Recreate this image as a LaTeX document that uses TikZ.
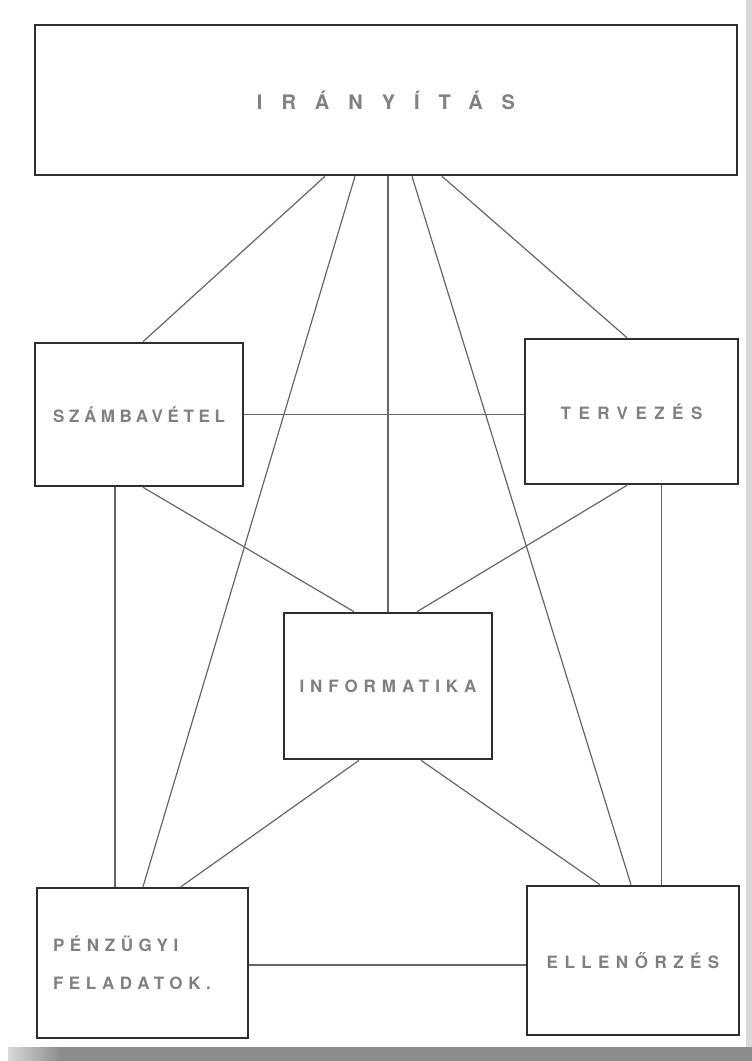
\documentclass[tikz,border=0pt]{standalone}
\usepackage{fontspec}
\setmainfont{TeX Gyre Heros}
\usetikzlibrary{calc}
\newcommand{\lblfont}[2]{\fontsize{#1}{#1}\selectfont\bfseries\addfontfeatures{LetterSpace=#2}}
\tikzset{
  box/.style={draw=black!82, line width=2.6pt, fill=white, rectangle, inner sep=0pt, text=black!50},
  link/.style={draw=black!60, line width=1.2pt},
}
\begin{document}
\begin{tikzpicture}[x=1pt,y=-1pt]
\useasboundingbox (0,0) rectangle (752,1061);
\fill[white] (0,0) rectangle (752,1061);
% scan shadow
\shade[left color=black!15, right color=black!45] (8,1047) rectangle (60,1061);
\fill[black!45] (60,1047) rectangle (752,1061);
\fill[black!15] (746,0) rectangle (752,1047);

\node[box, minimum width=702pt, minimum height=150pt, font=\lblfont{20}{95}] (top) at (386,100) {IRÁNYÍTÁS};
\node[box, minimum width=208pt, minimum height=143pt, font=\lblfont{17}{27}] (szam) at (139,414.5) {SZÁMBAVÉTEL};
\node[box, minimum width=213pt, minimum height=145pt, font=\lblfont{17}{44}] (terv) at (631.5,411.5) {TERVEZÉS};
\node[box, minimum width=208pt, minimum height=146pt, font=\lblfont{17}{35}] (info) at (388,686) {INFORMATIKA};
\node[box, minimum height=150pt, text width=179pt, inner xsep=16pt, align=left,
      font=\fontsize{17}{38}\selectfont\bfseries\addfontfeatures{LetterSpace=33}] (penz) at (142.5,963) {PÉNZÜGYI\\FELADATOK.};
\node[box, minimum width=212pt, minimum height=149pt, font=\lblfont{17}{38}] (ell) at (633,960.5) {ELLENŐRZÉS};

% from IRÁNYÍTÁS
\draw[link] ([xshift=-61pt]top.south) -- ([xshift=4pt]szam.north);
\draw[link] ([xshift=-31pt]top.south) -- ([xshift=0.5pt]penz.north);
\draw[link] (info.north |- top.south) -- (info.north);
\draw[link] ([xshift=26pt]top.south) -- ([xshift=-2pt]ell.north);
\draw[link] ([xshift=56pt]top.south) -- ([xshift=-4.5pt]terv.north);
% middle row
\draw[link] (szam.east) -- (szam.east -| terv.west);
\draw[link] ([xshift=4pt]szam.south) -- ([xshift=-34pt]info.north);
\draw[link] ([xshift=-4.5pt]terv.south) -- ([xshift=29pt]info.north);
\draw[link] ([xshift=-24pt]szam.south) -- ([xshift=-24pt]szam.south |- penz.north);
\draw[link] ([xshift=30pt]terv.south) -- ([xshift=30pt]terv.south |- ell.north);
% from INFORMATIKA
\draw[link] ([xshift=-29pt]info.south) -- ([xshift=38.5pt]penz.north);
\draw[link] ([xshift=33pt]info.south) -- ([xshift=-33pt]ell.north);
% bottom
\draw[link] (penz.east |- 0,965) -- (ell.west |- 0,965);
\end{tikzpicture}
\end{document}
